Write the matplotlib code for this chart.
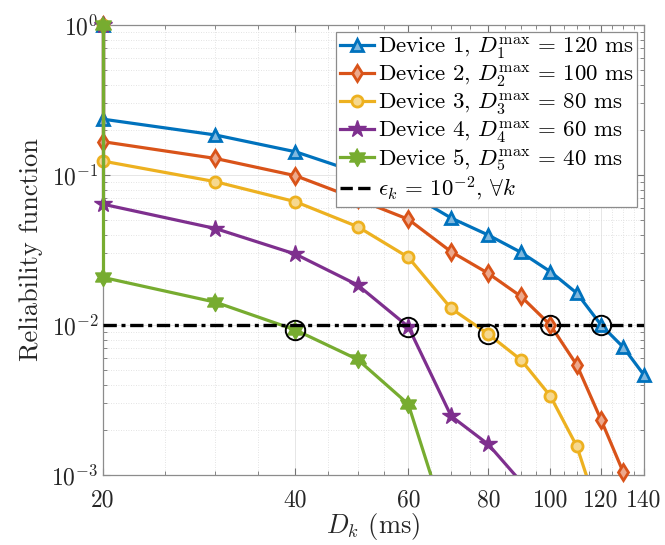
import matplotlib
matplotlib.use("Agg")
import matplotlib.pyplot as plt
import numpy as np
from matplotlib.path import Path
from matplotlib.lines import Line2D
from matplotlib.ticker import FixedLocator, NullFormatter

plt.rcParams['font.family'] = 'serif'
plt.rcParams['font.serif'] = ['cmr10']
plt.rcParams['mathtext.fontset'] = 'cm'
plt.rcParams['axes.unicode_minus'] = False

# data
D = [20, 30, 40, 50, 60, 70, 80, 90, 100, 110, 120, 130, 140]
start = 1.0
dev1 = [0.236, 0.185, 0.143, 0.104, 0.076, 0.0517, 0.0398, 0.0305, 0.0227, 0.0163, 0.0100, 0.0071, 0.00464]
dev2 = [0.167, 0.129, 0.099, 0.069, 0.0507, 0.0308, 0.0221, 0.0155, 0.0100, 0.0054, 0.00233, 0.00104]
dev3 = [0.124, 0.0903, 0.0664, 0.0453, 0.0283, 0.0129, 0.0087, 0.00585, 0.00336, 0.00155, 0.0005]
dev4 = [0.064, 0.044, 0.0297, 0.0185, 0.00975, 0.00247, 0.0016, 0.0009]
dev5 = [0.0208, 0.0142, 0.00927, 0.0059, 0.00297, 0.000375]
dmax = [120, 100, 80, 60, 40]
eps = 1e-2

colors = ['#0072BD', '#D95319', '#EDB120', '#7E2F8E', '#77AC30']
tints = ['#80b8de', '#eca98c', '#f6d88f', '#be97c6', '#bbd597']

# six-pointed star (hexagram) marker
ang = np.deg2rad(90 + 30 * np.arange(12))
rad = np.where(np.arange(12) % 2 == 0, 1.0, 0.577)
hexagram = Path(np.column_stack([rad * np.cos(ang), rad * np.sin(ang)]))
markers = ['^', 'd', 'o', '*', hexagram]
msizes = [9, 8, 8, 13, 13]

fig = plt.figure(figsize=(6.65, 5.45), dpi=100)
ax = fig.add_axes([0.1544, 0.1284, 0.814, 0.8256])

series = [dev1, dev2, dev3, dev4, dev5]
handles = []
labels = []
for i, vals in enumerate(series):
    x = np.array([D[0]] + D[:len(vals)])
    y = np.array([start] + vals)
    filled = i >= 3
    style = dict(color=colors[i], marker=markers[i], ms=msizes[i], mec=colors[i],
                 mew=1.0 if filled else 2.0,
                 mfc=colors[i] if filled else tints[i])
    ax.plot(x, y, color=colors[i], lw=2.3, zorder=3)
    # vertical drop at the left edge, not clipped
    ax.plot(x[:2], y[:2], color=colors[i], lw=2.3, zorder=3, clip_on=False)
    ok = y >= 1e-3
    ax.plot(x[ok], y[ok], ls='none', clip_on=False, zorder=3, **style)
    handles.append(Line2D([], [], lw=2.3, **style))
    labels.append(r'Device %d, $D_%d^{\max}\,=\,%d$ ms' % (i + 1, i + 1, dmax[i]))

ax.axhline(eps, color='k', lw=2.4, dashes=(4, 1.4, 1.2, 1.4), zorder=4)

# circles at each device's deadline
for i, vals in enumerate(series):
    k = D.index(dmax[i])
    ax.plot(D[k], vals[k], 'o', ms=14, mfc='none', mec='k', mew=1.4, zorder=5)

ax.set_xscale('log')
ax.set_yscale('log')
ax.set_xlim(20, 140)
ax.set_ylim(1e-3, 1)

xt = [20, 40, 60, 80, 100, 120, 140]
ax.xaxis.set_major_locator(FixedLocator(xt))
ax.set_xticklabels([str(v) for v in xt])
ax.xaxis.set_minor_locator(FixedLocator([v for v in range(25, 140, 5) if v not in xt]))
ax.xaxis.set_minor_formatter(NullFormatter())
ax.set_yticks([1e-3, 1e-2, 1e-1, 1])
ax.set_yticklabels([r'$10^{-3}$', r'$10^{-2}$', r'$10^{-1}$', r'$10^{0}$'])

ax.tick_params(which='both', direction='in', top=True, right=True,
               color='0.45', labelcolor='0.15', labelsize=17)
ax.tick_params(which='major', length=5)
ax.tick_params(which='minor', length=3)
ax.tick_params(axis='x', which='major', pad=10)
ax.tick_params(axis='y', which='major', pad=3)
for s in ax.spines.values():
    s.set_color('0.55')
    s.set_linewidth(0.9)

ax.grid(which='major', color='0.9', lw=0.7, ls='-')
ax.grid(which='minor', color='0.86', lw=0.6, ls=(0, (1, 2)))
ax.set_axisbelow(True)

ax.set_xlabel(r'$D_k$ (ms)', fontsize=19, color='0.15', labelpad=0)
ax.set_ylabel('Reliability function', fontsize=19, color='0.15', labelpad=6)

handles.append(Line2D([], [], color='k', lw=2.4, ls='--'))
labels.append(r'$\epsilon_k\,=\,10^{-2}$, $\forall k$')
leg = ax.legend(handles, labels, loc='upper right', fontsize=16.5,
                handlelength=1.5, handletextpad=0.15, labelspacing=0.1,
                borderpad=0.15, borderaxespad=0.3, fancybox=False,
                framealpha=1, edgecolor='0.55')
leg.get_frame().set_linewidth(0.9)

fig.savefig('out.png', dpi=100)
